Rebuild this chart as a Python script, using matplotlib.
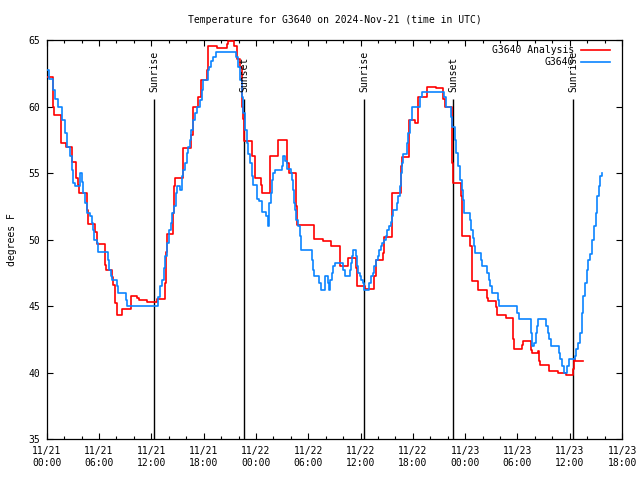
import matplotlib
matplotlib.use('Agg')
import matplotlib.pyplot as plt

# hours since 2024-11-21 00:00 UTC and temperature (deg F)
analysis_hours = [0.0, 0.69, 0.85, 1.6, 2.2, 2.87, 3.35, 3.55, 3.74, 4.58, 4.7, 5.54, 5.73,
                  6.69, 6.8, 7.45, 7.6, 7.83, 8.03, 8.6, 9.63, 10.4, 10.6, 11.54, 12.6,
                  13.57, 13.68, 13.76, 14.52, 14.64, 14.71, 15.6, 16.5, 16.74, 17.3, 17.66,
                  18.35, 18.54, 19.5, 20.7, 20.83, 21.48, 21.8, 22.17, 22.4, 22.5, 22.63,
                  23.55, 23.9, 24.54, 24.73, 25.6, 26.56, 27.6, 27.82, 28.55, 28.67, 30.65,
                  31.65, 32.57, 33.63, 34.59, 35.5, 35.55, 36.5, 37.53, 37.73, 38.55, 38.72,
                  39.56, 39.63, 40.6, 40.71, 41.6, 42.3, 42.6, 43.6, 44.6, 45.45, 45.68,
                  46.44, 46.6, 47.47, 47.66, 48.5, 48.74, 49.5, 50.5, 50.65, 51.5, 51.68,
                  52.68, 53.5, 53.63, 54.55, 54.66, 55.5, 55.62, 56.3, 56.45, 56.57, 57.6,
                  58.67, 59.55, 60.4, 60.5, 60.58, 61.47]
analysis_temp = [62.2, 60.0, 59.4, 57.25, 57.0, 55.8, 54.6, 54.1, 53.5, 52.25, 51.2, 50.6, 49.7,
                 48.1, 47.7, 47.2, 46.6, 45.25, 44.3, 44.8, 45.75, 45.6, 45.45, 45.3, 45.55,
                 46.75, 49.1, 50.4, 52.0, 54.0, 54.6, 56.9, 57.9, 60.0, 60.75, 62.0,
                 62.75, 64.55, 64.4, 64.7, 64.9, 64.55, 63.6, 63.0, 60.0, 59.1, 57.4,
                 56.25, 54.6, 54.1, 53.5, 56.25, 57.5, 55.75, 55.0, 52.5, 51.1, 50.05,
                 49.9, 49.5, 48.0, 48.6, 47.9, 46.55, 46.3, 47.25, 48.5, 49.0, 50.2,
                 52.6, 53.5, 55.5, 56.2, 59.0, 58.8, 60.75, 61.5, 61.4, 60.6, 60.0,
                 55.75, 54.25, 53.25, 50.3, 49.5, 46.9, 46.25, 45.6, 45.4, 44.9, 44.3,
                 44.1, 42.5, 41.75, 42.1, 42.4, 41.7, 41.45, 41.6, 40.9, 40.55, 40.1,
                 39.95, 39.8, 40.3, 41.0, 40.9, 40.9]

station_hours = [0.0, 0.3, 0.69, 1.0, 1.35, 1.7, 2.1, 2.3, 2.65, 2.9, 3.05, 3.3, 3.82, 4.0,
                 4.2, 4.4, 4.58, 4.96, 5.15, 5.35, 5.45, 5.73, 5.92, 7.0, 7.2, 7.33, 7.5,
                 8.1, 8.2, 9.1, 9.25, 12.8, 13.0, 13.2, 13.4, 13.6, 13.8, 14.0, 14.2, 14.4,
                 14.6, 14.8, 15.0, 15.29, 15.48, 15.67, 15.86, 16.05, 16.24, 16.4, 16.6,
                 16.8, 17.0, 17.2, 17.58, 17.77, 17.96, 18.46, 18.65, 18.9, 19.1, 19.42,
                 21.7, 21.98, 22.17, 22.36, 22.55, 22.74, 22.93, 23.1, 23.3, 23.5, 23.7,
                 24.1, 24.4, 24.65, 25.2, 25.4, 25.53, 25.67, 25.8, 25.99, 26.18, 26.95,
                 27.14, 27.33, 27.52, 28.05, 28.17, 28.25, 28.36, 28.47, 28.6, 28.86,
                 29.05, 29.16, 30.4, 30.6, 30.69, 31.27, 31.42, 31.9, 32.27, 32.4, 32.55,
                 32.67, 32.86, 33.06, 34.0, 34.2, 34.78, 34.86, 34.97, 35.16, 35.45, 35.6,
                 35.74, 35.93, 36.1, 36.3, 36.42, 37.0, 37.15, 37.38, 37.53, 37.72, 37.95,
                 38.1, 38.3, 38.5, 38.68, 38.87, 39.0, 39.25, 39.45, 39.63, 39.75, 40.13,
                 40.32, 40.5, 40.6, 40.75, 40.9, 41.28, 41.47, 41.66, 41.85, 42.8, 43.0,
                 45.6, 45.8, 46.33, 46.52, 46.82, 47.0, 47.2, 47.4, 47.6, 47.78, 47.9,
                 48.5, 48.7, 48.9, 49.0, 49.1, 49.8, 49.95, 50.56, 50.7, 50.9, 51.1, 51.78,
                 51.9, 54.0, 54.16, 55.55, 55.7, 55.9, 56.08, 56.2, 56.38, 57.26, 57.45,
                 57.6, 57.83, 58.75, 58.86, 59.15, 59.3, 59.7, 59.9, 60.6, 60.75, 60.95,
                 61.16, 61.35, 61.55, 61.74, 61.93, 62.12, 62.3, 62.5, 62.6, 62.77, 62.96,
                 63.15, 63.34, 63.5, 63.65]
station_temp = [62.75, 62.1, 61.25, 60.6, 60.0, 59.0, 58.0, 57.0, 56.3, 55.25, 54.25, 54.0, 55.0, 54.3,
                53.5, 52.75, 52.0, 51.75, 51.25, 50.75, 50.0, 49.75, 49.05, 48.5, 47.75, 47.25, 47.0,
                46.5, 46.0, 45.5, 45.0, 45.7, 46.5, 47.0, 47.9, 48.75, 49.75, 50.75, 51.25, 52.0,
                52.5, 53.5, 54.0, 53.75, 54.75, 55.25, 55.75, 56.5, 57.0, 57.5, 58.25,
                59.0, 59.5, 60.0, 60.5, 61.25, 62.0, 62.75, 63.0, 63.4, 63.75, 64.1,
                63.75, 63.0, 62.0, 60.75, 59.5, 58.25, 57.25, 56.4, 55.75, 54.75, 54.1,
                53.05, 52.9, 52.05, 51.75, 51.0, 52.75, 53.5, 54.5, 55.0, 55.25, 55.5,
                56.25, 55.9, 55.3, 55.0, 54.5, 53.75, 52.75, 52.25, 51.5, 51.0,
                50.25, 49.25, 48.5, 47.75, 47.25, 46.75, 46.25, 47.25, 46.75, 46.25, 47.0,
                47.5, 48.0, 48.25, 47.75, 47.25, 47.75, 48.25, 48.75, 49.25, 48.75, 48.0,
                47.5, 47.25, 47.0, 46.75, 46.25, 46.75, 47.25, 47.5, 48.0, 48.5, 48.75,
                49.25, 49.5, 49.75, 50.0, 50.25, 50.75, 51.0, 51.3, 51.75, 52.25, 52.75,
                53.25, 54.0, 55.0, 55.75, 56.4, 57.25, 58.0, 59.0, 60.0, 60.75, 61.1,
                60.75, 60.0, 59.25, 58.5, 57.5, 56.5, 55.5, 54.5, 53.75, 53.0, 52.0,
                51.5, 50.75, 50.1, 49.5, 49.0, 48.5, 48.0, 47.5, 47.0, 46.5, 46.0, 45.5,
                45.0, 44.5, 44.0, 43.0, 42.0, 42.25, 43.0, 43.5, 44.0, 43.5, 43.0,
                42.5, 42.0, 41.5, 41.0, 40.5, 40.0, 40.5, 41.0, 41.25, 41.75, 42.25,
                43.0, 44.5, 45.75, 46.75, 47.75, 48.5, 48.9, 49.25, 50.0, 51.0, 52.0,
                53.25, 54.0, 54.75, 55.0]

sun_hours = [12.34, 22.67, 36.43, 46.64, 60.41]
sun_labels = ['Sunrise', 'Sunset', 'Sunrise', 'Sunset', 'Sunrise']

tick_hours = list(range(0, 67, 6))
tick_labels = ['11/21\n00:00', '11/21\n06:00', '11/21\n12:00', '11/21\n18:00',
               '11/22\n00:00', '11/22\n06:00', '11/22\n12:00', '11/22\n18:00',
               '11/23\n00:00', '11/23\n06:00', '11/23\n12:00', '11/23\n18:00']

plt.rcParams['font.family'] = ['DejaVu Sans Mono']
plt.rcParams['font.size'] = 7

fig = plt.figure(figsize=(6.4, 4.8), dpi=100)
ax = fig.add_axes([0.073, 0.085, 0.899, 0.8315])

ax.plot(analysis_hours, analysis_temp, drawstyle='steps-post', color='#ff0000', lw=1.2, zorder=3)
ax.plot(station_hours, station_temp, drawstyle='steps-post', color='#0a84ff', lw=1.2, zorder=4)

# sunrise / sunset markers
for h, lab in zip(sun_hours, sun_labels):
    ax.vlines(h, 35, 60.6, color='black', lw=1.0, zorder=2)
    ax.text(h, 61.1, lab, rotation=90, ha='center', va='bottom', fontsize=7, zorder=5)

ax.set_xlim(0, 66)
ax.set_ylim(35, 65)
ax.set_xticks(tick_hours)
ax.set_xticklabels(tick_labels)
ax.set_xticks(range(0, 67, 2), minor=True)
ax.set_yticks(range(35, 66, 5))
ax.tick_params(which='both', direction='in', top=True, right=True, width=0.8)
ax.tick_params(which='major', length=4, pad=5)
ax.tick_params(which='minor', length=2)
for s in ax.spines.values():
    s.set_linewidth(0.9)

ax.set_ylabel('degrees F', labelpad=8)
ax.set_title('Temperature for G3640 on 2024-Nov-21 (time in UTC)', fontsize=7, pad=12)

# legend drawn like gnuplot's: right aligned text, sample line after
ax.text(0.9166, 0.975, 'G3640 Analysis', ha='right', va='center', transform=ax.transAxes, zorder=6)
ax.plot([0.9288, 0.9792], [0.975, 0.975], color='#ff0000', lw=1.2, transform=ax.transAxes, zorder=6)
ax.text(0.9166, 0.944, 'G3640', ha='right', va='center', transform=ax.transAxes, zorder=6)
ax.plot([0.9288, 0.9792], [0.944, 0.944], color='#0a84ff', lw=1.2, transform=ax.transAxes, zorder=6)

fig.savefig('out.png', dpi=100)
